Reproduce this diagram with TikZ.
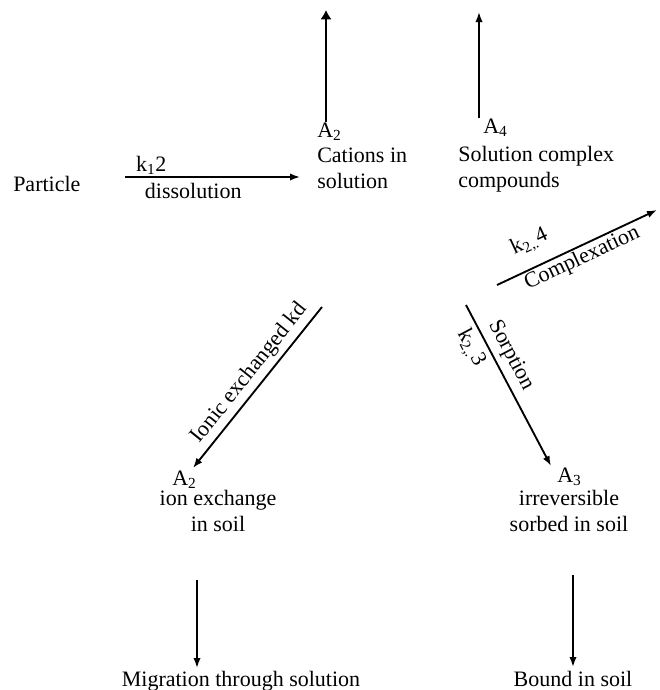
\documentclass[tikz,border=0pt]{standalone}
\usepackage{fontspec}
\setmainfont{Liberation Serif}
\usetikzlibrary{arrows.meta}

\begin{document}
\begin{tikzpicture}[x=0.75pt,y=-0.75pt]
                        \tikzset{Label/.style={%
                                inner sep=0pt,%
                                font=\fontsize{16.5}{19.5}\selectfont,%
                            }}
                        \tikzset{Flow/.style={%
                                -{Latex[length=7.5pt,width=5.5pt]},%
                                line width=1.4pt,%
                            }}
                            \useasboundingbox (0,0) rectangle (660,690);

                            \node[Label, anchor=base west] (particle) at (13,191) {Particle};
                            \node[Label, anchor=base west] (a2) at (317,137) {A\textsubscript{2}};
                            \node[Label, anchor=base west, align=left] (cations) at (317,188) {Cations in\\solution};
                            \node[Label, anchor=base west] (a4) at (483,133) {A\textsubscript{4}};
                            \node[Label, anchor=base west, align=left] (complex) at (458,187) {Solution complex\\compounds};
                            \node[Label, anchor=base west] (a2x) at (172,485) {A\textsubscript{2}};
                            \node[Label, anchor=base, align=center] (exch) at (218,531) {ion exchange\\in soil};
                            \node[Label, anchor=base west] (a3) at (557,482) {A\textsubscript{3}};
                            \node[Label, anchor=base, align=center] (sorbed) at (569,531) {irreversible\\sorbed in soil};
                            \node[Label, anchor=base] (migr) at (241,686) {Migration through solution};
                            \node[Label, anchor=base] (bound) at (573,686) {Bound in soil};

                            \coordinate (up2) at (326,10);
                            \coordinate (up4) at (479,12);
                            \coordinate (d1) at (125,177);
                            \coordinate (d2) at (300,177);
                            \coordinate (c1) at (497,285);
                            \coordinate (c2) at (657,210);
                            \coordinate (s1) at (466,305);
                            \coordinate (s2) at (551,466);
                            \coordinate (i1) at (322,307);
                            \coordinate (i2) at (193,468);
                            \coordinate (m1) at (197,580);
                            \coordinate (m2) at (197,668);
                            \coordinate (b1) at (573,575);
                            \coordinate (b2) at (573,667);

                            \path (a2.north -| up2) edge[Flow, line width=2.2pt, -{Latex[length=7pt,width=8.5pt]}] (up2);
                            \path ([xshift=-3pt]a4.north west) edge[Flow] (up4);
                            \path (d1) edge[Flow] node[Label, pos=0.15, above=1pt] {k\textsubscript{1}2}
                                                  node[Label, pos=0.39, below=4pt] {dissolution} (d2);
                            \path (c1) edge[Flow] node[Label, sloped, pos=0.27, above=10pt] {k\textsubscript{2,.}4}
                                                  node[Label, sloped, pos=0.5, below=1pt] {Complexation} (c2);
                            \path (s1) edge[Flow] node[Label, sloped, pos=0.36, above=4pt] {Sorption}
                                                  node[Label, sloped, pos=0.22, below=3.5pt] {k\textsubscript{2,.}3} (s2);
                            \path (i1) edge[Flow] node[Label, sloped, pos=0.47, above=3pt] {Ionic exchanged kd} (i2);
                            \path (m1) edge[Flow] (m2);
                            \path (b1) edge[Flow] (b2);
                    \end{tikzpicture}
\end{document}
